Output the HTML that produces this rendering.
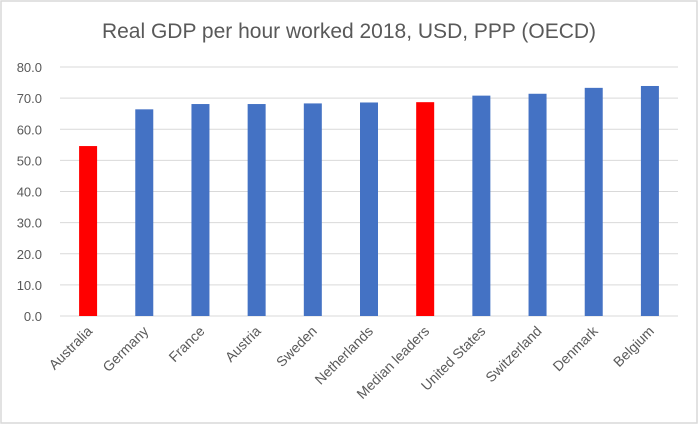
<!DOCTYPE html>
<html><head><meta charset="utf-8"><style>
html,body{margin:0;padding:0;background:#fff;}
svg{display:block;font-family:"Liberation Sans",sans-serif;}
</style></head><body>
<svg id="chart" width="699" height="425">
<rect x="1" y="1" width="696" height="422" fill="#fff" stroke="#d9d9d9" stroke-width="1.5"/>
<text x="349" y="38" text-anchor="middle" font-size="21" fill="#595959">Real GDP per hour worked 2018, USD, PPP (OECD)</text>
<g id="grid"></g><g id="bars"></g><g id="labels"></g>
</svg>
<script>
const categories=["Australia","Germany","France","Austria","Sweden","Netherlands","Median leaders","United States","Switzerland","Denmark","Belgium"];
const values=[54.6,66.4,68.1,68.1,68.3,68.6,68.7,70.8,71.4,73.3,73.9];
const highlighted=["Australia","Median leaders"];
const yTicks=[0,10,20,30,40,50,60,70,80];
const yTickLabels=["0.0","10.0","20.0","30.0","40.0","50.0","60.0","70.0","80.0"];
const NS="http://www.w3.org/2000/svg";
const x0=60,x1=678,yb=316,yt=67,ymax=80;
const band=(x1-x0)/categories.length;
const y=v=>yb-(v/ymax)*(yb-yt);
const xc=i=>x0+band*(i+0.5);
function mk(t,a,p){const e=document.createElementNS(NS,t);for(const k in a)e.setAttribute(k,a[k]);p.appendChild(e);return e;}
const g=document.getElementById('grid'),b=document.getElementById('bars'),l=document.getElementById('labels');
yTicks.forEach((t,i)=>{
 const ln=mk('line',{x1:x0,x2:x1,y1:y(t),y2:y(t),stroke:'#d9d9d9','stroke-width':1},g);
 
 
 const tx=mk('text',{x:42,y:y(t)+5,'text-anchor':'end','font-size':13,fill:'#595959'},g);
 tx.textContent=yTickLabels[i];
 
 
});
categories.forEach((c,i)=>{
 const w=18;
 const r=mk('rect',{x:xc(i)-w/2,y:y(values[i]),width:w,height:yb-y(values[i]),fill:highlighted.includes(c)?'#ff0000':'#4472c4'},b);
 
 
 const tx=mk('text',{x:0,y:0,'text-anchor':'end','font-size':14,fill:'#595959',transform:`translate(${xc(i)+5},${yb+16}) rotate(-45)`},l);
 tx.textContent=c;
 
 
});
</script>
</body></html>
